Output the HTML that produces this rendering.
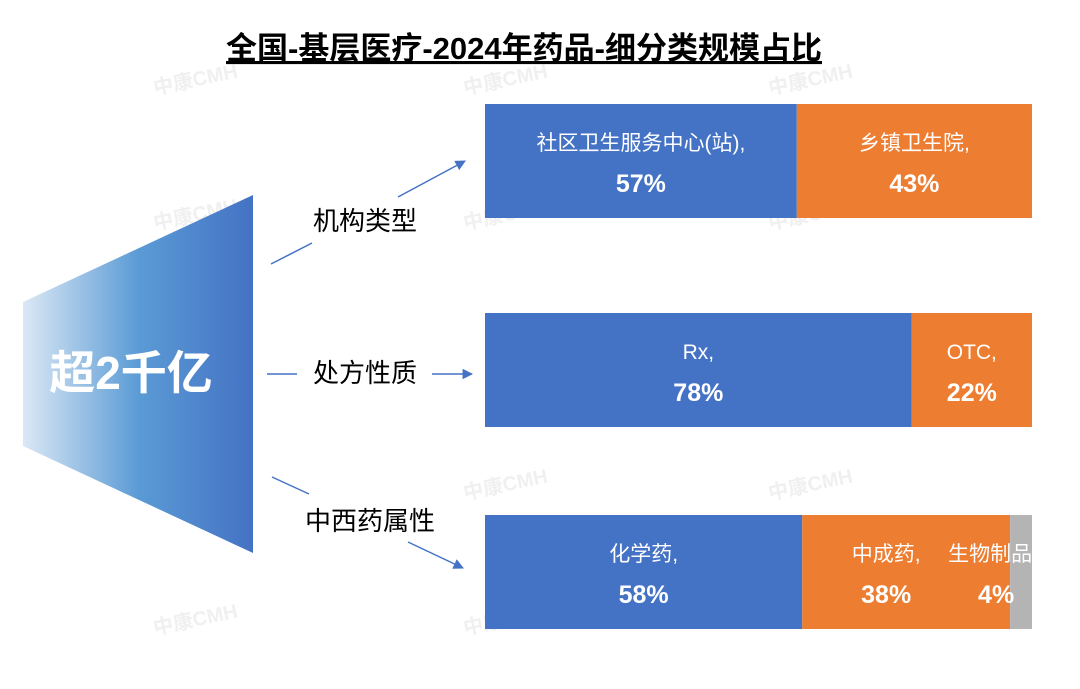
<!DOCTYPE html>
<html><head><meta charset="utf-8"><style>
html,body{margin:0;padding:0;background:#fff}
svg{display:block;font-family:"Liberation Sans","Noto Sans CJK SC",sans-serif}
</style></head><body>
<svg id="chart" width="1080" height="689" viewBox="0 0 1080 689">
<defs>
<linearGradient id="g" x1="0" x2="1" y1="0" y2="0">
<stop offset="0" stop-color="#dbe8f5"/><stop offset="0.5" stop-color="#5b9bd5"/><stop offset="1" stop-color="#4472c4"/>
</linearGradient>
<marker id="ar" viewBox="0 0 10 10" refX="9" refY="5" markerWidth="7" markerHeight="7" orient="auto"><path d="M0,0L10,5L0,10z" fill="#4472c4"/></marker>
</defs>
<g fill="#f0f0f0" font-size="20" font-weight="bold">
<text x="155" y="95" transform="rotate(-12 155 95)">中康CMH</text><text x="465" y="95" transform="rotate(-12 465 95)">中康CMH</text><text x="770" y="95" transform="rotate(-12 770 95)">中康CMH</text>
<text x="155" y="230" transform="rotate(-12 155 230)">中康CMH</text><text x="465" y="230" transform="rotate(-12 465 230)">中康CMH</text><text x="770" y="230" transform="rotate(-12 770 230)">中康CMH</text>
<text x="465" y="500" transform="rotate(-12 465 500)">中康CMH</text><text x="770" y="500" transform="rotate(-12 770 500)">中康CMH</text>
<text x="155" y="635" transform="rotate(-12 155 635)">中康CMH</text><text x="465" y="635" transform="rotate(-12 465 635)">中康CMH</text>
</g>
<text x="524" y="59" text-anchor="middle" font-size="31" font-weight="bold" text-decoration="underline" fill="#000">全国-基层医疗-2024年药品-细分类规模占比</text>
<polygon points="23,302 253,195 253,553 23,446" fill="url(#g)"/>
<text x="131" y="389" text-anchor="middle" font-size="46" font-weight="bold" fill="#fff">超2千亿</text>
<g stroke="#4472c4" stroke-width="1.5" fill="none">
<line x1="271" y1="264" x2="312" y2="243"/><line x1="398" y1="197" x2="465" y2="161" marker-end="url(#ar)"/>
<line x1="267" y1="374" x2="297" y2="374"/><line x1="432" y1="374" x2="472" y2="374" marker-end="url(#ar)"/>
<line x1="272" y1="477" x2="309" y2="494"/><line x1="408" y1="542" x2="463" y2="568" marker-end="url(#ar)"/>
</g>
<g font-size="26" fill="#000" text-anchor="middle">
<text x="365" y="230">机构类型</text>
<text x="365" y="382">处方性质</text>
<text x="370" y="530">中西药属性</text>
</g>
<g id="bars"></g>
</svg>
<script>
const rowLabels=[["社区卫生服务中心(站),","乡镇卫生院,"],["Rx,","OTC,"],["化学药,","中成药,","生物制品,"]];
const rowValues=[[57,43],[78,22],[58,38,4]];
const rowNames=["institution","prescription","medicine"];
const colors=["#4472c4","#ed7d31","#a5a5a5"];
const X0=485,X1=1032,rowTop=[104,313,515],H=114;
const xs=v=>X0+(X1-X0)*v/100;
const g=document.getElementById('bars');
const NS="http://www.w3.org/2000/svg";
rowValues.forEach((vals,r)=>{
  let acc=0;
  vals.forEach((v,i)=>{
    const x=xs(acc),w=xs(acc+v)-x;acc+=v;
    const rc=document.createElementNS(NS,'rect');
    rc.setAttribute('x',x);rc.setAttribute('y',rowTop[r]);rc.setAttribute('width',w);rc.setAttribute('height',H);
    rc.setAttribute('fill',i===2?'#b4b4b4':colors[i]);
    
    
    g.appendChild(rc);
    let cx=x+w/2;
    if(vals.length===3&&i===1){cx-=20;}
    if(i===2){cx=x-14;}
    const t1=document.createElementNS(NS,'text');
    t1.setAttribute('x',i===2?x-62:cx);t1.setAttribute('y',rowTop[r]+46);t1.setAttribute('text-anchor',i===2?'start':'middle');
    t1.setAttribute('font-size','21');t1.setAttribute('fill','#fff');
    t1.textContent=rowLabels[r][i];
    
    
    g.appendChild(t1);
    const t2=document.createElementNS(NS,'text');
    t2.setAttribute('x',cx);t2.setAttribute('y',rowTop[r]+88);t2.setAttribute('text-anchor','middle');
    t2.setAttribute('font-size','25');t2.setAttribute('font-weight','bold');t2.setAttribute('fill','#fff');
    t2.textContent=v+'%';
    
    
    g.appendChild(t2);
  });
});
const cp=document.createElementNS(NS,'clipPath');cp.setAttribute('id','cp');
const cr=document.createElementNS(NS,'rect');cr.setAttribute('x',0);cr.setAttribute('y',0);cr.setAttribute('width',X1+2);cr.setAttribute('height',689);
cp.appendChild(cr);document.getElementById('chart').appendChild(cp);g.setAttribute('clip-path','url(#cp)');
</script>
</body></html>
